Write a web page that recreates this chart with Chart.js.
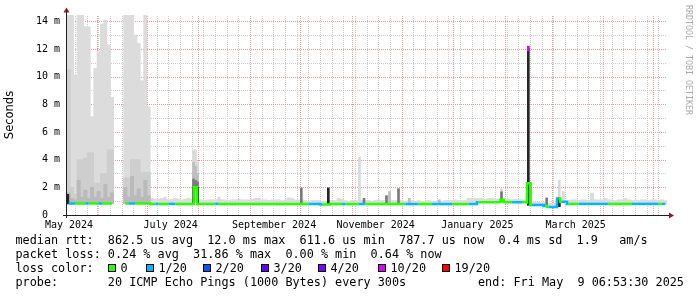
<!DOCTYPE html>
<html>
<head>
<meta charset="utf-8">
<title>SmokePing latency, last 360 days</title>
<script src="https://cdn.jsdelivr.net/npm/chart.js@4.4.1/dist/chart.umd.min.js"></script>
<style>
  html, body { margin: 0; padding: 0; background: #fff; }
  canvas { display: block; }
</style>
</head>
<body>
<canvas id="chart" width="697" height="297"></canvas>
<script>
// x values are days since the start of the graph window (360 days ending Fri May 9 06:53:30 2025)
const startMs = Date.UTC(2024, 4, 14, 6, 53, 30);
const spanDays = 360;
const binDays = 2;

// median rtt per 2 day bin, ms (null = no data)
const median = [
  0.83, 0.83, 0.83, 0.83, 0.83, 0.83, 0.83, 0.83, 0.83, 0.83,
  0.83, 0.83, 0.83, 0.83, null, null, null, 0.83, 0.83, 0.83,
  0.83, 0.83, 0.83, 0.83, 0.83, 0.8, 0.8, 0.8, 0.8, 0.8,
  0.8, 0.8, 0.8, 0.8, 0.8, 0.8, 0.8, 0.8, 2.0, 0.8,
  0.8, 0.8, 0.8, 0.8, 0.8, 0.8, 0.8, 0.8, 0.8, 0.8,
  0.8, 0.8, 0.8, 0.8, 0.8, 0.8, 0.8, 0.8, 0.8, 0.8,
  0.8, 0.8, 0.8, 0.8, 0.8, 0.8, 0.8, 0.8, 0.8, 0.8,
  0.8, 0.8, 0.79, 0.79, 0.79, 0.79, 0.75, 0.75, 0.75, 0.79,
  0.79, 0.79, 0.79, 0.79, 0.79, 0.79, 0.79, 0.79, 0.79, 0.79,
  0.79, 0.79, 0.79, 0.79, 0.79, 0.79, 0.79, 0.79, 0.79, 0.79,
  0.79, 0.79, 0.79, 0.79, 0.79, 0.79, 0.79, 0.79, 0.79, 0.79,
  0.79, 0.79, 0.79, 0.79, 0.79, 0.79, 0.79, 0.79, 0.79, 0.79,
  0.79, 0.79, 0.79, 0.92, 0.92, 0.92, 0.92, 0.92, 0.92, 0.92,
  1.1, 0.92, 0.92, 0.92, 0.92, 0.92, 0.92, 0.92, 2.3, 0.72,
  0.72, 0.72, 0.72, 0.65, 0.58, 0.58, 0.58, 1.2, 0.95, 0.95,
  0.8, 0.8, 0.8, 0.8, 0.8, 0.8, 0.8, 0.8, 0.8, 0.8,
  0.8, 0.8, 0.8, 0.8, 0.8, 0.8, 0.8, 0.8, 0.8, 0.8,
  0.8, 0.8, 0.8, 0.8, 0.8, 0.8, 0.8, 0.8, 0.8, 0.8
];

// packet loss class per bin: index into lossColors
const loss = [
  1, 1, 0, 0, 0, 1, 0, 0, 0, 1,
  0, 0, 0, 0, 0, 0, 0, 0, 1, 1,
  0, 0, 0, 0, 0, 0, 1, 0, 0, 0,
  1, 1, 0, 0, 0, 0, 0, 0, 0, 0,
  0, 0, 0, 0, 1, 0, 0, 0, 0, 0,
  0, 0, 0, 0, 0, 0, 0, 0, 0, 0,
  0, 0, 0, 0, 0, 0, 0, 0, 0, 0,
  0, 0, 1, 1, 1, 1, 0, 0, 0, 0,
  0, 0, 1, 0, 0, 0, 0, 1, 1, 0,
  0, 0, 0, 0, 0, 0, 0, 0, 0, 0,
  0, 1, 1, 1, 1, 0, 0, 0, 0, 1,
  1, 1, 1, 1, 1, 0, 0, 0, 0, 0,
  1, 1, 1, 0, 0, 0, 0, 0, 0, 0,
  0, 0, 0, 1, 1, 1, 0, 0, 0, 1,
  1, 1, 1, 0, 1, 1, 1, 0, 1, 1,
  0, 0, 0, 1, 1, 1, 1, 1, 1, 1,
  1, 1, 0, 0, 0, 0, 0, 0, 0, 1,
  1, 1, 1, 1, 1, 1, 1, 0, 1, 1
];

// upper edge of the light smoke per bin, ms
const smokeTop = [
  14.5, 14.5, 10.1, 14.5, 14.5, 13.6, 13.6, 7.1, 10.6, 11.8,
  13.8, 14.1, 12.3, 8.5, null, null, null, 14.5, 14.5, 14.5,
  13.0, 12.4, 9.7, 14.5, 7.8, 1.2, 1.15, 1.15, 1.2, 1.15,
  1.1, 1.15, 1.2, 1.15, 1.1, 1.15, 1.2, 1.15, 1.15, 1.1,
  1.1, 1.05, 1.1, 1.1, 1.1, 1.15, 1.1, 1.1, 1.05, 1.1,
  1.1, 1.15, 1.1, 1.1, 1.1, 1.15, 1.2, 1.2, 1.1, 1.1,
  1.05, 1.1, 1.1, 1.1, 1.05, 1.1, 1.25, 1.2, 1.1, 1.1,
  1.1, 1.05, 1.0, 1.05, 1.05, 1.05, 1.0, 1.0, 1.05, 1.05,
  1.05, 1.2, 1.15, 1.05, 1.0, 1.05, 1.05, 1.0, 1.05, 1.05,
  1.05, 1.0, 1.05, 1.1, 1.05, 1.05, 1.0, 1.05, 1.05, 1.0,
  1.05, 1.0, 1.05, 1.05, 1.0, 1.05, 1.0, 1.0, 1.05, 1.0,
  1.0, 1.0, 1.0, 1.05, 1.05, 1.05, 1.1, 1.05, 1.05, 1.05,
  1.2, 1.2, 1.2, 1.2, 1.2, 1.15, 1.2, 1.2, 1.15, 1.15,
  1.15, 1.15, 1.15, 1.1, 1.15, 1.15, 1.1, 1.1, 2.3, 0.95,
  0.95, 0.95, 0.9, 0.9, 0.85, 0.85, 0.85, 1.2, 1.0, 1.0,
  1.05, 1.1, 1.1, 1.05, 1.1, 1.1, 1.05, 1.58, 1.1, 1.1,
  1.1, 1.2, 1.1, 1.1, 1.05, 1.1, 1.1, 1.2, 1.1, 1.05,
  1.1, 1.05, 1.1, 1.1, 1.05, 1.1, 1.1, 1.05, 1.1, 1.05
];

// medium and darker smoke in the noisy May / June weeks, ms
const smokeMidTop = [
  10.5, 2.0, 1.5, 4.0, 4.0, 4.1, 4.5, 4.5, 2.3, 2.3,
  3.0, 3.0, 4.7, 4.7, null, null, null, 2.7, 2.7, 4.0,
  4.0, 4.0, 3.1, 3.1, 3.1
];
const smokeDarkTop = [
  1.6, 1.2, 1.1, 2.5, 1.3, 1.8, 1.2, 2.0, 1.3, 1.7,
  1.2, 2.2, 1.3, 1.6, null, null, null, 2.0, 1.3, 2.8,
  1.4, 1.9, 1.3, 2.5, 1.4
];

// short spikes: day, low, high (ms), shade
const spikeDay = [0.5, 75.9, 77.1, 78.3, 75.9, 77.1, 78.3, 75.9, 77.1, 78.3, 75.9, 78.3,
  140.6, 156.8, 175.5, 178.2, 191.7, 193.5, 198.9, 205.4, 223.4, 260.7, 260.7,
  276.8, 276.8, 277.8, 287.8, 295.4, 295.4, 297.8, 58.8, 91.2];
const spikeLow = [0.8, 1.0, 1.0, 1.0, 1.0, 1.0, 1.0, 0.9, 1.9, 0.9, 0.9, 0.9,
  0.85, 0.8, 0.9, 0.8, 0.8, 0.8, 0.8, 0.8, 0.8, 0.9, 0.96,
  0.7, 11.85, 0.8, 0.6, 0.6, 0.6, 0.9, 1.0, 1.0];
const spikeHigh = [1.5, 4.7, 4.7, 3.8, 3.8, 3.5, 3.0, 2.6, 2.5, 2.4, 2.0, 2.0,
  1.95, 1.96, 4.2, 1.2, 1.4, 1.7, 1.9, 1.2, 1.1, 1.9, 1.68,
  12.05, 12.2, 2.3, 1.23, 2.5, 1.23, 1.7, 1.3, 1.3];
const spikeShade = [3, 0, 0, 0, 1, 1, 1, 2, 2, 2, 3, 3,
  2, 3, 0, 2, 2, 1, 2, 1, 1, 0, 2,
  3, 4, 3, 2, 0, 3, 0, 0, 0];

const shadeColors = ["#d9d9d9", "#bdbdbd", "#7a7a7a", "#262626", "#dd00ff"];
const lossColors = ["#26ff00", "#00b8ff", "#0059ff", "#5e00ff", "#7e00ff", "#dd00ff", "#ff0000"];
const lossLabels = ["0", "1/20", "2/20", "3/20", "4/20", "10/20", "19/20"];

// x axis: month grid lines, weekly minor lines, labels in mid month
const gridMonths = [[2024, 5], [2024, 6], [2024, 7], [2024, 8], [2024, 9], [2024, 10],
  [2024, 11], [2025, 0], [2025, 1], [2025, 2], [2025, 3], [2025, 4]];
const labelMonths = [[2024, 4], [2024, 6], [2024, 8], [2024, 10], [2025, 0], [2025, 2]];
const monthLabels = ["May 2024", "July 2024", "September 2024", "November 2024", "January 2025", "March 2025"];
const firstSunday = [2024, 4, 19];

const yTicks = [0, 1, 2, 3, 4, 5, 6, 7, 8, 9, 10, 11, 12, 13, 14];

const statsRtt = "median rtt:  862.5 us avg  12.0 ms max  611.6 us min  787.7 us now  0.4 ms sd  1.9   am/s";
const statsLoss = "packet loss: 0.24 % avg  31.86 % max  0.00 % min  0.64 % now";
const probeText = "probe:       20 ICMP Echo Pings (1000 Bytes) every 300s";
const endText = "end: Fri May  9 06:53:30 2025";

const dayOf = (y, m, d, h) => (Date.UTC(y, m, d, h || 0) - startMs) / 864e5;

const weekDays = [];
for (let d = dayOf(...firstSunday); d < spanDays; d += 7) weekDays.push(d);
const monthDays = gridMonths.map(([y, m]) => dayOf(y, m, 1));
const labelDays = labelMonths.map(([y, m]) => dayOf(y, m, 15, 12));

const gridGray = "#cdcdcd";
const gridRed = "#e89a9a";

const binX = median.map((_, i) => (i + 0.5) * binDays);
function floating(tops) {
  const pts = [];
  tops.forEach((t, i) => {
    if (t != null && median[i] != null) pts.push({ x: binX[i], y: [median[i], t] });
  });
  return pts;
}

// dotted rrdtool style grid, drawn through the chart's own scales
const rrdGrid = {
  id: "rrdGrid",
  beforeDatasetsDraw(chart) {
    const { ctx, chartArea: a, scales } = chart;
    const xs = scales.x, ys = scales.y;
    ctx.save();
    ctx.lineWidth = 1;
    ctx.setLineDash([1, 1]);
    const vline = (d, color) => {
      const px = Math.round(xs.getPixelForValue(d)) + 0.5;
      if (px < a.left || px > a.right) return;
      ctx.strokeStyle = color;
      ctx.beginPath(); ctx.moveTo(px, a.bottom); ctx.lineTo(px, a.top); ctx.stroke();
    };
    const hline = (v, color) => {
      const py = Math.round(ys.getPixelForValue(v)) + 0.5;
      ctx.strokeStyle = color;
      ctx.beginPath(); ctx.moveTo(a.left, py); ctx.lineTo(a.right, py); ctx.stroke();
    };
    weekDays.forEach(d => vline(d, gridGray));
    yTicks.forEach(v => { if (v % 2) hline(v, gridGray); });
    monthDays.forEach(d => vline(d, gridRed));
    yTicks.forEach(v => { if (v % 2 === 0 && v > 0) hline(v, gridRed); });
    ctx.restore();
  }
};

const decor = {
  id: "decor",
  afterDraw(chart) {
    const ctx = chart.ctx;
    const a = chart.chartArea;
    ctx.save();

    // axes and arrows
    ctx.strokeStyle = "#1f1f1f";
    ctx.lineWidth = 1;
    ctx.beginPath();
    ctx.moveTo(a.left - 0.5, a.bottom + 3);
    ctx.lineTo(a.left - 0.5, a.top - 3);
    ctx.moveTo(a.left - 4, a.bottom + 0.5);
    ctx.lineTo(a.right + 3, a.bottom + 0.5);
    ctx.stroke();
    ctx.fillStyle = "#8c1c1c";
    ctx.beginPath();
    ctx.moveTo(a.left - 3.5, a.top - 2.5);
    ctx.lineTo(a.left + 2.5, a.top - 2.5);
    ctx.lineTo(a.left - 0.5, a.top - 7.5);
    ctx.closePath();
    ctx.fill();
    ctx.beginPath();
    ctx.moveTo(a.right + 2, a.bottom - 2.5);
    ctx.lineTo(a.right + 2, a.bottom + 3.5);
    ctx.lineTo(a.right + 7, a.bottom + 0.5);
    ctx.closePath();
    ctx.fill();

    // watermark
    ctx.fillStyle = "#ababab";
    ctx.font = "8.3px 'DejaVu Sans Mono'";
    ctx.textBaseline = "middle";
    ctx.textAlign = "left";
    ctx.save();
    ctx.translate(688, 5);
    ctx.rotate(Math.PI / 2);
    ctx.fillText("RRDTOOL / TOBI OETIKER", 0, 0);
    ctx.restore();

    // legend block
    ctx.fillStyle = "#000";
    ctx.font = "11.8px 'DejaVu Sans Mono'";
    ctx.fillText(statsRtt, 15.5, 241);
    ctx.fillText(statsLoss, 15.5, 255);
    ctx.fillText("loss color:", 15.5, 269);
    ctx.fillText(probeText, 15.5, 283);
    ctx.fillText(endText, 478, 283);

    const boxX = [108, 146, 203, 261, 318, 378, 442];
    lossLabels.forEach((lab, i) => {
      ctx.fillStyle = lossColors[i];
      ctx.fillRect(boxX[i], 264, 8, 8);
      ctx.strokeStyle = "#000";
      ctx.strokeRect(boxX[i] + 0.5, 264.5, 7, 7);
      ctx.fillStyle = "#000";
      ctx.fillText(lab, boxX[i] + 12.5, 269);
    });
    ctx.restore();
  }
};

Chart.defaults.font.family = "'DejaVu Sans Mono'";
Chart.defaults.color = "#000";

new Chart(document.getElementById("chart"), {
  type: "bar",
  data: {
    datasets: [
      {
        type: "line",
        data: median.map((m, i) => ({ x: binX[i], y: m })),
        stepped: "middle",
        borderWidth: 2.5,
        pointRadius: 0,
        spanGaps: false,
        borderColor: lossColors[0],
        segment: { borderColor: c => lossColors[loss[c.p0DataIndex]] },
        order: 0
      },
      {
        xAxisID: "x2",
        data: spikeDay.map((d, i) => ({ x: d, y: [spikeLow[i], spikeHigh[i]] })),
        backgroundColor: c => shadeColors[spikeShade[c.dataIndex]],
        barThickness: 2,
        grouped: false,
        order: 1
      },
      {
        data: floating(smokeDarkTop),
        backgroundColor: "#bababa",
        barPercentage: 1, categoryPercentage: 1, grouped: false,
        order: 2
      },
      {
        data: floating(smokeMidTop),
        backgroundColor: "#cecece",
        barPercentage: 1, categoryPercentage: 1, grouped: false,
        order: 3
      },
      {
        data: floating(smokeTop),
        backgroundColor: "#dcdcdc",
        barPercentage: 1, categoryPercentage: 1, grouped: false,
        order: 4
      }
    ]
  },
  options: {
    responsive: false,
    animation: false,
    devicePixelRatio: 1,
    layout: { padding: { top: 15, right: 30, bottom: 0, left: 0 } },
    plugins: { legend: { display: false }, tooltip: { enabled: false } },
    scales: {
      x: {
        type: "linear",
        min: 0,
        max: spanDays,
        offset: false,
        afterBuildTicks: s => { s.ticks = labelDays.map(d => ({ value: d })); },
        afterFit: s => { s.height = 82; },
        ticks: {
          callback: (v, i) => monthLabels[i],
          autoSkip: false,
          maxRotation: 0,
          padding: 4,
          font: { size: 10 }
        },
        grid: { display: false, drawTicks: false },
        border: { display: false }
      },
      x2: { type: "linear", min: 0, max: spanDays, offset: false, display: false },
      y: {
        type: "linear",
        min: 0,
        max: 14.45,
        afterBuildTicks: s => { s.ticks = yTicks.map(v => ({ value: v })); },
        afterFit: s => { s.width = 67; },
        ticks: {
          callback: v => v === 0 ? "0  " : (v % 2 === 0 ? v + " m" : ""),
          autoSkip: false,
          padding: 7,
          font: { size: 10 }
        },
        grid: { display: false, drawTicks: false },
        border: { display: false },
        title: {
          display: true,
          text: "Seconds",
          font: { family: "'DejaVu Sans'", size: 11.5 },
          padding: { top: 3, bottom: 0 }
        }
      }
    }
  },
  plugins: [rrdGrid, decor]
});
</script>
</body>
</html>
